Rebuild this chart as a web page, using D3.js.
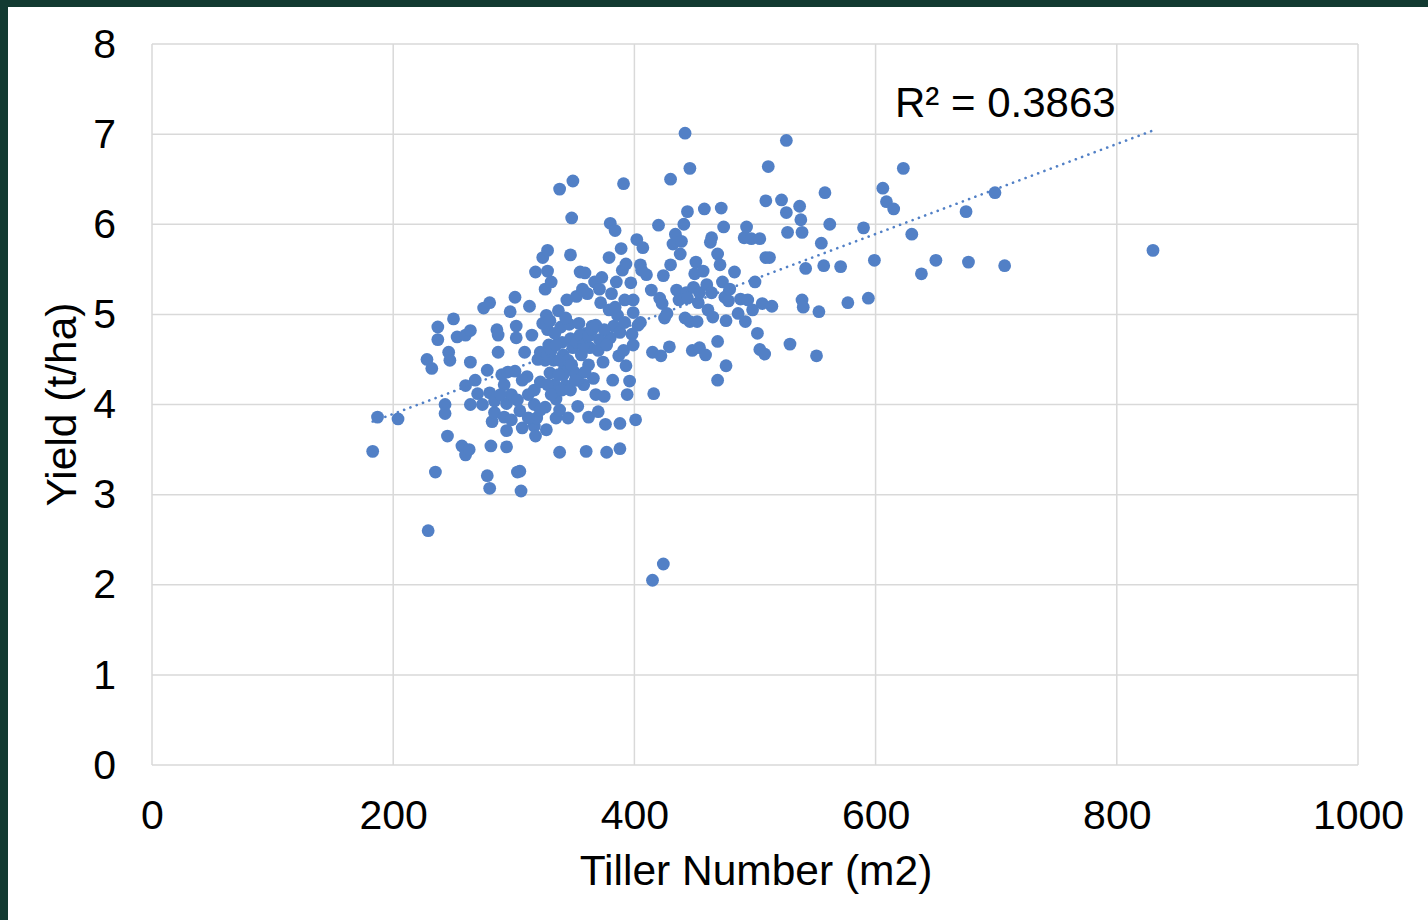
<!DOCTYPE html>
<html>
<head>
<meta charset="utf-8">
<script src="https://cdn.jsdelivr.net/npm/d3@7"></script>
<style>
  html, body { margin: 0; padding: 0; background: #ffffff; }
  svg { display: block; }
</style>
</head>
<body>
<svg id="chart" width="1428" height="920"></svg>
<script>
// Tiller number (per m2) for each plot
const tillers = [
  183,187,204,229,235,228,232,237,237,243,243,245,246,247,250,253,257,260,263,260,
  264,264,260,264,268,270,274,275,280,278,280,278,280,281,282,284,284,286,287,287,
  290,292,294,292,294,294,297,301,302,302,303,305,306,301,298,303,305,307,309,311,
  313,315,317,317,317,318,319,318,320,322,324,326,326,328,328,327,328,329,330,327,
  331,333,334,335,335,337,338,338,339,340,341,342,343,344,346,347,347,348,349,349,
  350,352,353,354,355,356,357,358,359,360,360,361,362,362,363,365,366,367,368,370,
  371,371,372,373,374,375,376,377,379,380,380,381,382,383,384,385,386,387,388,388,
  389,390,391,392,393,393,394,396,397,398,399,399,401,402,403,405,407,410,414,415,
  416,415,424,420,421,422,423,424,425,427,429,430,430,432,434,435,437,438,439,441,
  442,442,443,444,444,446,446,448,449,450,451,452,453,454,454,457,458,459,460,461,
  463,464,464,465,469,469,469,471,472,473,474,475,476,476,478,479,483,486,488,491,
  492,493,494,497,498,500,502,504,504,506,508,509,509,511,512,514,522,526,526,527,
  529,537,538,539,539,540,542,551,553,555,557,558,562,571,577,590,594,599,606,609,
  615,623,630,638,650,675,677,699,707,830,
  322,326,328,331,335,338,341,345,348,352,355,358,362,365,368,370,375,377,328,331,
  337,340,347,353,359,338,345,351,312,307,295,289,298,312,322,324,330,334,343,379,
  384,388,392,391,399,405,406
];

// Grain yield (t/ha) for the same plots, in the same order
const yields = [
  3.48,3.86,3.84,2.60,3.25,4.50,4.40,4.86,4.72,4.00,3.90,3.65,4.58,4.49,4.95,4.75,3.54,3.44,3.50,4.77,
  4.82,4.47,4.21,4.00,4.27,4.12,4.00,5.07,5.13,4.38,4.13,3.21,3.07,3.54,3.81,3.91,4.04,4.83,4.77,4.58,
  4.33,4.22,4.01,3.86,3.71,3.53,5.03,5.19,4.87,4.74,3.25,3.26,3.04,4.37,4.11,4.05,3.93,3.74,4.58,4.31,
  5.09,4.77,4.16,4.00,3.76,5.47,3.85,3.65,4.50,4.25,5.63,5.28,3.97,5.71,5.48,4.99,4.83,4.66,4.35,3.72,
  5.36,4.49,4.22,4.06,3.85,5.04,6.39,3.47,4.86,4.69,4.55,4.40,4.21,5.16,4.89,4.73,5.66,6.07,6.48,4.63,
  4.36,5.20,3.98,4.90,5.47,4.55,5.28,4.22,5.46,3.48,4.79,5.23,4.44,3.86,4.63,4.87,4.29,5.36,4.11,3.92,
  4.72,5.28,5.13,5.41,4.47,4.09,3.78,3.47,5.63,4.74,6.01,5.23,4.27,4.87,5.93,5.36,4.99,4.54,3.51,3.79,
  5.73,5.49,6.45,5.16,5.56,4.43,4.11,4.26,5.35,4.78,5.16,5.02,3.83,5.83,4.88,5.55,5.74,5.44,5.27,4.58,
  4.12,2.05,2.23,5.99,5.18,4.54,5.12,5.43,4.96,5.01,4.64,6.50,5.55,5.78,5.89,5.27,5.16,5.67,5.81,6.00,
  7.01,4.96,5.24,6.14,5.18,6.62,4.92,4.60,5.30,5.45,5.58,4.92,5.13,4.63,5.24,5.48,6.17,4.55,5.33,5.05,
  5.80,5.24,5.85,4.97,4.27,4.70,5.67,5.55,6.18,5.36,5.97,5.19,4.43,4.93,5.15,5.28,5.47,5.01,5.17,5.85,
  4.92,5.97,5.16,5.84,5.05,5.36,4.79,4.61,5.84,5.12,4.56,6.26,5.63,6.64,5.63,5.09,6.27,6.93,6.13,5.91,
  4.67,6.20,6.05,5.91,5.16,5.08,5.51,4.54,5.03,5.79,5.54,6.35,6.00,5.53,5.13,5.96,5.18,5.60,6.40,6.25,
  6.17,6.62,5.89,5.45,5.60,6.14,5.58,6.35,5.54,5.71,
  4.58,4.49,4.55,4.60,4.66,4.49,4.33,4.49,4.44,4.69,4.77,4.66,4.76,4.83,4.88,4.60,4.83,4.66,4.22,4.11,
  4.33,4.16,4.16,4.27,4.36,3.94,3.85,4.27,4.11,4.27,4.36,4.11,3.83,3.85,3.94,4.90,4.93,4.79,4.96,5.05,
  5.08,4.80,4.91,4.60,4.66,4.91,5.49
];

const xTicks = [0, 200, 400, 600, 800, 1000];
const yTicks = [0, 1, 2, 3, 4, 5, 6, 7, 8];
const rSquaredLabel = "R² = 0.3863";
const xTitle = "Tiller Number (m2)";
const yTitle = "Yield (t/ha)";

const points = tillers.map((t, i) => ({ x: t, y: yields[i] }));

const svg = d3.select("#chart");
const W = 1428, H = 920;
const plot = { left: 152, right: 1358, top: 44, bottom: 765 };
const dotColor = "#5280c6";
const gridColor = "#d9d9d9";
const font = "'Liberation Sans', Arial, sans-serif";

// Dark frame along the top and left edges
svg.append("rect").attr("width", W).attr("height", H).attr("fill", "#123a31");
svg.append("rect").attr("x", 8).attr("y", 7).attr("width", W - 8).attr("height", H - 7).attr("fill", "#ffffff");

const x = d3.scaleLinear().domain([0, 1000]).range([plot.left, plot.right]);
const y = d3.scaleLinear().domain([0, 8]).range([plot.bottom, plot.top]);

// Gridlines
const grid = svg.append("g");
grid.selectAll(".gx").data(xTicks).join("line")
  .attr("x1", d => x(d)).attr("x2", d => x(d))
  .attr("y1", plot.top).attr("y2", plot.bottom)
  .attr("stroke", gridColor).attr("stroke-width", 1.5);
grid.selectAll(".gy").data(yTicks).join("line")
  .attr("x1", plot.left).attr("x2", plot.right)
  .attr("y1", d => y(d)).attr("y2", d => y(d))
  .attr("stroke", gridColor).attr("stroke-width", 1.5);

// Axes (tick labels only; lines come from the grid)
const xAxis = svg.append("g")
  .attr("transform", `translate(0,${plot.bottom})`)
  .call(d3.axisBottom(x).tickValues(xTicks).tickFormat(d3.format("d")).tickSize(0).tickPadding(35));
const yAxis = svg.append("g")
  .attr("transform", `translate(${plot.left},0)`)
  .call(d3.axisLeft(y).tickValues(yTicks).tickFormat(d3.format("d")).tickSize(0).tickPadding(36));
[xAxis, yAxis].forEach(a => {
  a.select(".domain").remove();
  a.selectAll("text").attr("font-family", font).attr("font-size", 41).attr("fill", "#000");
});
xAxis.selectAll("text").attr("dy", "0.71em");

// Least-squares trendline across the observed tiller range
const mx = d3.mean(points, d => d.x), my = d3.mean(points, d => d.y);
const sxy = d3.sum(points, d => (d.x - mx) * (d.y - my));
const sxx = d3.sum(points, d => (d.x - mx) ** 2);
const slope = sxy / sxx, intercept = my - slope * mx;
const [xMin, xMax] = d3.extent(points, d => d.x);

// Points
svg.append("g").selectAll("circle").data(points).join("circle")
  .attr("cx", d => x(d.x)).attr("cy", d => y(d.y)).attr("r", 6.4)
  .attr("fill", dotColor);

svg.append("line")
  .attr("x1", x(xMin)).attr("y1", y(intercept + slope * xMin))
  .attr("x2", x(xMax)).attr("y2", y(intercept + slope * xMax))
  .attr("stroke", dotColor).attr("stroke-width", 2.6)
  .attr("stroke-linecap", "round").attr("stroke-dasharray", "0.1 6.6");

// Labels
svg.append("text").attr("x", 895).attr("y", 117)
  .attr("font-family", font).attr("font-size", 42).attr("fill", "#000")
  .text(rSquaredLabel);

svg.append("text").attr("x", 756).attr("y", 885)
  .attr("text-anchor", "middle").attr("font-family", font).attr("font-size", 42.5)
  .attr("fill", "#000").text(xTitle);

svg.append("text").attr("transform", `translate(76,${(plot.top + plot.bottom) / 2}) rotate(-90)`)
  .attr("text-anchor", "middle").attr("font-family", font).attr("font-size", 42.5)
  .attr("fill", "#000").text(yTitle);
</script>
</body>
</html>
